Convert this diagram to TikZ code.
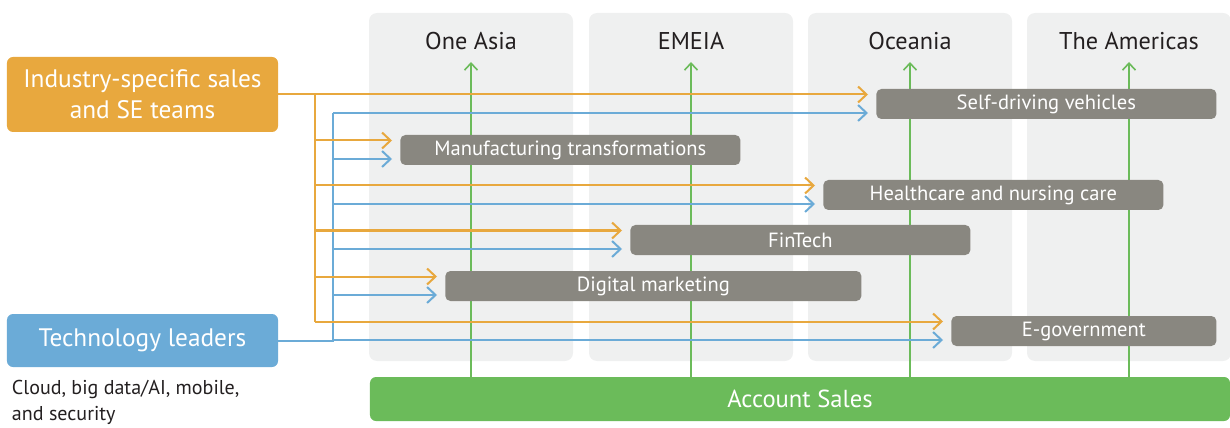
\documentclass[tikz,border=0pt]{standalone}
\usepackage{fontspec}
\setmainfont{PT Sans}
\usepackage{tikz}
\usetikzlibrary{arrows.meta, positioning, calc}
\definecolor{indorange}{HTML}{E8A83E}
\definecolor{techblue}{HTML}{6BABD7}
\definecolor{bargray}{HTML}{898780}
\definecolor{colgray}{HTML}{EFF0F0}
\definecolor{acctgreen}{HTML}{6BBB5A}
\definecolor{titletext}{HTML}{231F20}
\pgfdeclarelayer{cols}
\pgfdeclarelayer{wires}
\pgfsetlayers{cols,wires,main}
\tikzset{
  >={Straight Barb[length=1.7mm, width=3.2mm]},
  lead/.style    = {draw=none, rounded corners=1.2mm, text=white,
                    minimum width=54.2mm, align=center,
                    font=\fontsize{14.4}{17.5}\selectfont},
  theme/.style   = {fill=bargray, rounded corners=1mm, text=white,
                    minimum width=68mm, minimum height=6mm, inner sep=0pt,
                    anchor=west, font=\fontsize{11.7}{13}\selectfont},
  coltitle/.style= {text=titletext, font=\fontsize{13.8}{16}\selectfont},
  oline/.style   = {draw=indorange, line width=0.4mm},
  bline/.style   = {draw=techblue, line width=0.4mm},
  gline/.style   = {draw=acctgreen, line width=0.32mm,
                    -{Straight Barb[length=1.4mm, width=2.6mm]}},
}

\begin{document}
\begin{tikzpicture}[x=0.2mm, y=-0.2mm]
  \useasboundingbox (0,0) rectangle (1230,428);

  % ---------- regional columns ---------------------------------------
  \foreach \x/\name/\i in {471/One Asia/1, 691/EMEIA/2, 910/Oceania/3,
                           1129/The Americas/4} {
    \begin{pgfonlayer}{cols}
      \fill[colgray, rounded corners=1.6mm] (\x-102,13) rectangle (\x+102,361);
    \end{pgfonlayer}
    \node[coltitle] (t\i) at (\x,41) {\name};
    \coordinate (g\i) at (\x,62);
  }

  % ---------- account sales bar + upward arrows ----------------------
  \node[fill=acctgreen, rounded corners=1.2mm, text=white,
        minimum width=172mm, minimum height=8.8mm, inner sep=0pt,
        font=\fontsize{14}{16}\selectfont] (acct) at (800,399) {Account Sales};
  \begin{pgfonlayer}{wires}
    \foreach \i in {1,...,4}
      \draw[gline] (acct.north -| g\i) -- (g\i);
  \end{pgfonlayer}

  % ---------- leading teams ------------------------------------------
  \node[lead, fill=indorange, minimum height=15mm] (ind) at (142.5,94.5)
    {Industry-specific sales\\and SE teams};
  \node[lead, fill=techblue, minimum height=10.6mm] (tech) at (142.5,340.5)
    {Technology leaders};
  \node[below right=2.6mm and 1mm of tech.south west, anchor=north west,
        align=left, text=titletext, inner sep=0pt,
        font=\fontsize{11.4}{14.5}\selectfont] (techlist)
    {Cloud, big data/AI, mobile,\\and security};

  % ---------- themes -------------------------------------------------
  \node[theme] (sdv)  at (876,104) {Self-driving vehicles};
  \node[theme] (mfg)  at (400,150) {Manufacturing transformations};
  \node[theme] (hc)   at (823,195) {Healthcare and nursing care};
  \node[theme] (fin)  at (630,240) {FinTech};
  \node[theme, minimum width=83.2mm] (dm)   at (445,286) {Digital marketing};
  \node[theme, minimum width=53mm]   (egov) at (951,331) {E-government};

  % ---------- trunks and branches ------------------------------------
  \coordinate (otop) at (315,94.5);
  \coordinate (bbot) at (333,340.5);
  \begin{pgfonlayer}{wires}
    \draw[oline] (ind.east) -- (otop) -- (otop |- {$(egov.west)+(0,-9.5)$});
    \draw[bline] (tech.east) -- (bbot) -- (bbot |- {$(sdv.west)+(0,9)$});
    \foreach \b in {sdv, mfg, hc, fin, dm, egov} {
      \draw[oline, ->] (otop |- {$(\b.west)+(0,-9.5)$})
        -- ($(\b.west)+(-8,-9.5)$);
      \draw[bline, ->] (bbot |- {$(\b.west)+(0,9)$})
        -- ($(\b.west)+(-8,9)$);
    }
  \end{pgfonlayer}
\end{tikzpicture}
\end{document}
